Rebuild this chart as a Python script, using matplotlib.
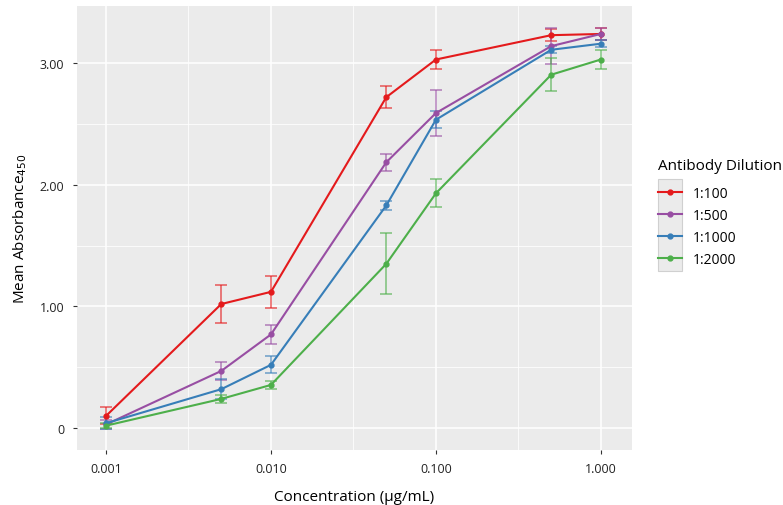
import numpy as np
from matplotlib import pyplot as plt
from matplotlib.ticker import FixedLocator
from matplotlib.patches import Rectangle

plt.rcParams['font.family'] = ['Open Sans', 'DejaVu Sans']

# data
conc = [0.001, 0.005, 0.01, 0.05, 0.1, 0.5, 1.0]
dilutions = ["1:100", "1:500", "1:1000", "1:2000"]
colors = ["#E41A1C", "#984EA3", "#377EB8", "#4DAF4A"]

mean_100 = [0.10, 1.02, 1.12, 2.72, 3.03, 3.23, 3.24]
err_100 = [0.07, 0.155, 0.13, 0.09, 0.08, 0.05, 0.05]
mean_500 = [0.03, 0.47, 0.77, 2.185, 2.59, 3.14, 3.24]
err_500 = [0.04, 0.075, 0.075, 0.07, 0.19, 0.15, 0.05]
mean_1000 = [0.04, 0.32, 0.52, 1.83, 2.535, 3.11, 3.16]
err_1000 = [0.05, 0.08, 0.07, 0.04, 0.07, 0.03, 0.03]
mean_2000 = [0.02, 0.24, 0.355, 1.35, 1.93, 2.905, 3.03]
err_2000 = [0.02, 0.03, 0.03, 0.25, 0.115, 0.135, 0.075]

means = [mean_100, mean_500, mean_1000, mean_2000]
errs = [err_100, err_500, err_1000, err_2000]

x_ticks = [0.001, 0.01, 0.1, 1.0]
x_labels = ["0.001", "0.010", "0.100", "1.000"]
y_ticks = [0, 1, 2, 3]
y_labels = ["0", "1.00", "2.00", "3.00"]

fig = plt.figure(figsize=(7.83, 5.06), dpi=100)
ax = fig.add_axes([0.0983, 0.1087, 0.7087, 0.8775])
ax.set_facecolor("#EBEBEB")

for label, m, e, c in zip(dilutions, means, errs, colors):
    ax.errorbar(conc, m, yerr=e, fmt="none", ecolor=c, alpha=0.6,
                elinewidth=1.3, capsize=4, capthick=1.3, zorder=3)
    ax.plot(conc, m, color=c, lw=1.5, marker="o", ms=3.5, label=label, zorder=4)

ax.set_xscale("log")
ax.set_xlim(10 ** -3.176, 10 ** 0.188)
ax.set_ylim(-0.18, 3.47)

ax.xaxis.set_major_locator(FixedLocator(x_ticks))
ax.xaxis.set_minor_locator(FixedLocator([10 ** -2.5, 10 ** -1.5, 10 ** -0.5]))
ax.set_xticks(x_ticks)
ax.set_xticklabels(x_labels)
ax.set_yticks(y_ticks)
ax.set_yticklabels(y_labels)
ax.set_yticks([0.5, 1.5, 2.5], minor=True)
ax.xaxis.set_minor_formatter(plt.NullFormatter())

ax.grid(which="major", color="white", lw=1.1)
ax.grid(which="minor", color="white", lw=0.55)
ax.set_axisbelow(True)
for s in ax.spines.values():
    s.set_visible(False)
ax.tick_params(which="major", length=3, color="#333333", labelsize=9, labelcolor="#222222", pad=6)
ax.tick_params(which="minor", length=0)

ax.set_xlabel("Concentration (µg/mL)", fontsize=11, labelpad=10)
ax.set_ylabel("Mean Absorbance$_{450}$", fontsize=11, labelpad=8)

# grey box behind legend keys
fig.patches.append(Rectangle((0.8403, 0.4625), 0.0307, 0.182, transform=fig.transFigure,
                             facecolor="#EBEBEB", edgecolor="#D0D0D0", lw=0.8, zorder=0))

leg = fig.legend(loc="upper left", bbox_to_anchor=(0.825, 0.71), title="Antibody Dilution",
                 fontsize=10, title_fontsize=11, frameon=False, handlelength=1.7,
                 labelspacing=0.5, alignment="left")
leg._legend_box.sep = 9

fig.savefig("out.png", dpi=100)
plt.close(fig)
